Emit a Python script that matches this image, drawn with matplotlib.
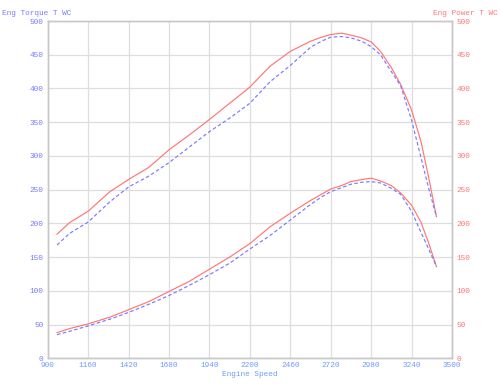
import matplotlib
matplotlib.use("Agg")
import matplotlib.pyplot as plt

rpm = [960, 1040, 1160, 1300, 1420, 1550, 1680, 1810, 1940, 2070, 2200,
       2330, 2460, 2590, 2660, 2720, 2790, 2850, 2920, 2980, 3040, 3110,
       3170, 3240, 3300, 3350, 3400]

torque_red = [184, 201, 218, 247, 265, 283, 309, 331, 354, 378, 402,
              433, 455, 470, 476, 480, 482, 479, 475, 469, 455, 431,
              406, 368, 322, 268, 210]
torque_blue = [168, 185, 202, 232, 254, 270, 290, 313, 336, 356, 378,
               410, 434, 461, 470, 476, 477, 475, 470, 462, 450, 425,
               404, 353, 298, 252, 210]
power_red = [38, 44, 51, 61, 72, 84, 99, 114, 132, 150, 170,
             195, 215, 234, 243, 251, 256, 262, 265, 267, 263, 256,
             245, 227, 202, 171, 136]
power_blue = [35, 40, 48, 58, 68, 80, 93, 108, 124, 141, 162,
              182, 205, 228, 239, 247, 253, 258, 261, 262, 260, 252,
              243, 218, 187, 162, 136]

xticks = [900, 1160, 1420, 1680, 1940, 2200, 2460, 2720, 2980, 3240, 3500]
yticks = [0, 50, 100, 150, 200, 250, 300, 350, 400, 450, 500]

mono = "Liberation Mono"
fs = 5.6
RED = "#ff7676"
BLUE = "#7a7aff"
XBLUE = "#6f9bff"

fig = plt.figure(figsize=(5.0, 3.87), dpi=100)
ax = fig.add_axes([0.0954, 0.0742, 0.8086, 0.8715])
ax2 = ax.twinx()

ax.plot(rpm, torque_red, color=RED, lw=0.85, zorder=3)
ax.plot(rpm, torque_blue, color=BLUE, lw=0.85, ls=(0, (3, 2)), zorder=3)
ax2.plot(rpm, power_red, color=RED, lw=0.85, zorder=3)
ax2.plot(rpm, power_blue, color=BLUE, lw=0.85, ls=(0, (3, 2)), zorder=3)

for a in (ax, ax2):
    a.set_xlim(900, 3500)
    a.set_ylim(0, 500)
    a.set_yticks(yticks)
    for s in a.spines.values():
        s.set_color("#c8c8c8")
        s.set_linewidth(1.0)

ax.set_xticks(xticks)
ax.grid(True, color="#dedede", lw=0.9)
ax.set_axisbelow(True)

ax.tick_params(axis="both", length=0, pad=3)
ax.tick_params(axis="y", labelcolor=BLUE, labelsize=fs)
ax.tick_params(axis="x", labelcolor=XBLUE, labelsize=fs)
ax2.tick_params(axis="y", length=0, pad=3, labelcolor=RED, labelsize=fs)

for lab in ax.get_xticklabels() + ax.get_yticklabels() + ax2.get_yticklabels():
    lab.set_fontfamily(mono)

ax.set_xlabel("Engine Speed", color=XBLUE, fontsize=fs, family=mono, labelpad=1)
fig.text(0.004, 0.966, "Eng Torque T WC", color=BLUE, fontsize=fs, family=mono,
         ha="left", va="center")
fig.text(0.996, 0.966, "Eng Power T WC", color=RED, fontsize=fs, family=mono,
         ha="right", va="center")

fig.savefig("out.png", dpi=100)
